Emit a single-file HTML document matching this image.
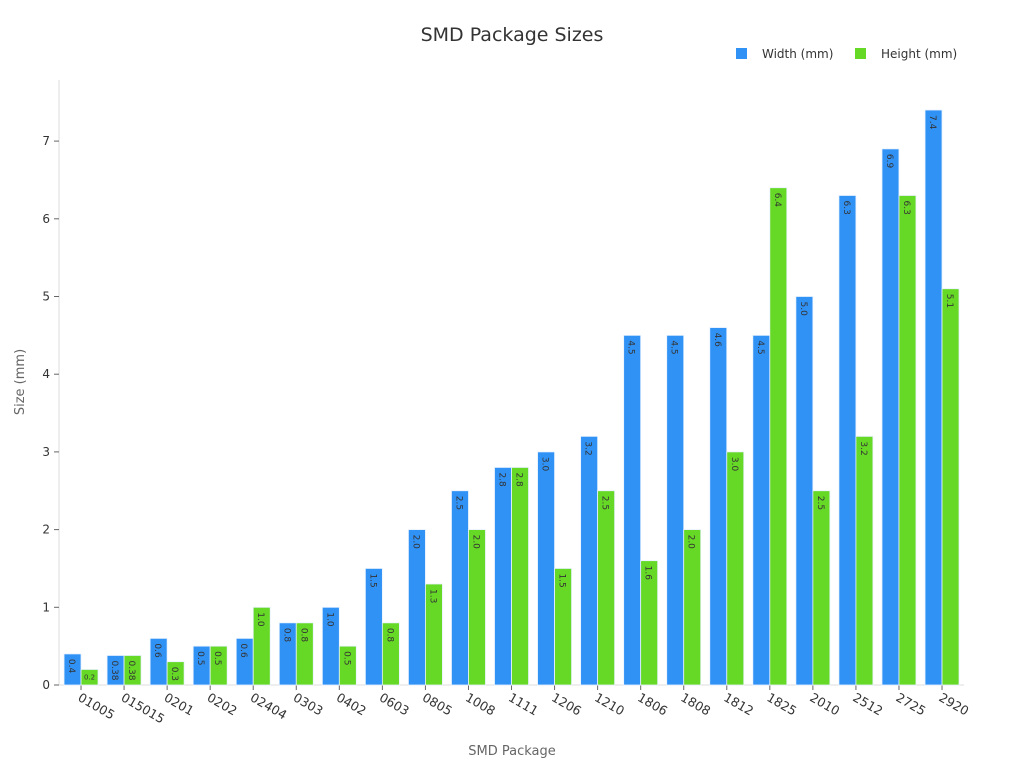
<!DOCTYPE html>
<html><head><meta charset="utf-8"><style>
body{margin:0;background:#fff;font-family:"DejaVu Sans","Liberation Sans",sans-serif;}
svg text{font-family:"DejaVu Sans","Liberation Sans",sans-serif;}
</style></head><body>
<svg id="chart" width="1024" height="768" xmlns="http://www.w3.org/2000/svg">
<text x="512" y="41" text-anchor="middle" font-size="19" fill="#333">SMD Package Sizes</text>
<g>
<rect x="736" y="48" width="11" height="11" fill="#3192f5"/>
<text x="762" y="58" font-size="12" fill="#333">Width (mm)</text>
<rect x="855" y="48" width="11" height="11" fill="#66d926"/>
<text x="881" y="58" font-size="12" fill="#333">Height (mm)</text>
</g>
<line x1="59" y1="80" x2="59" y2="685" stroke="#ddd"/>
<line x1="59" y1="685" x2="964" y2="685" stroke="#ddd"/>
<text transform="translate(24,382) rotate(-90)" text-anchor="middle" font-size="13" fill="#666">Size (mm)</text>
<text x="512" y="755" text-anchor="middle" font-size="13" fill="#666">SMD Package</text>
<g id="plot"></g>
</svg>
<script>
const categories=["01005","015015","0201","0202","02404","0303","0402","0603","0805","1008","1111","1206","1210","1806","1808","1812","1825","2010","2512","2725","2920"];
const widthVals=[0.4,0.38,0.6,0.5,0.6,0.8,1.0,1.5,2.0,2.5,2.8,3.0,3.2,4.5,4.5,4.6,4.5,5.0,6.3,6.9,7.4];
const heightVals=[0.2,0.38,0.3,0.5,1.0,0.8,0.5,0.8,1.3,2.0,2.8,1.5,2.5,1.6,2.0,3.0,6.4,2.5,3.2,6.3,5.1];
const yTicks=[0,1,2,3,4,5,6,7];
const NS="http://www.w3.org/2000/svg";
const g=document.getElementById('plot');
const x0=59.5,band=43.05,y0=685,pxPer=77.7;
const y=v=>y0-v*pxPer;
const xc=i=>x0+band*(i+0.5);
function el(t,a){const e=document.createElementNS(NS,t);for(const k in a)e.setAttribute(k,a[k]);g.appendChild(e);return e;}
const fmt=v=>(Math.round(v*100)%10!==0)?v.toFixed(2):v.toFixed(1);
yTicks.forEach(t=>{
 const l=el('line',{x1:54,x2:59,y1:y(t),y2:y(t),stroke:'#666'});
 
 
 const tx=el('text',{x:50,y:y(t)+4,'text-anchor':'end','font-size':12,fill:'#333'});
 tx.textContent=t;
 
 
});
categories.forEach((c,i)=>{
 const cx=xc(i);
 const tk=el('line',{x1:cx,x2:cx,y1:685,y2:690,stroke:'#666'});
 
 
 const tl=el('text',{transform:`translate(${cx-4},${700}) rotate(30)`,'font-size':12.5,fill:'#333'});
 tl.textContent=c;
 
 
 [[widthVals[i],'#3192f5',cx-17,'bar-width'],[heightVals[i],'#66d926',cx,'bar-height']].forEach(([v,col,bx,nm])=>{
  const r=el('rect',{x:bx,y:y(v),width:17,height:v*pxPer,fill:col,stroke:'#e8f2ff','stroke-width':0.8});
  
  
  const s=fmt(v);
  let t;
  if(v*pxPer<22){
   t=el('text',{x:bx+8.5,y:y(v)+10,'text-anchor':'middle','font-size':7,fill:'#333'});
  } else {
   t=el('text',{transform:`translate(${bx+5},${y(v)+5}) rotate(90)`,'font-size':9,fill:'#333'});
  }
  t.textContent=s;
  
  
 });
});
</script>
</body></html>
